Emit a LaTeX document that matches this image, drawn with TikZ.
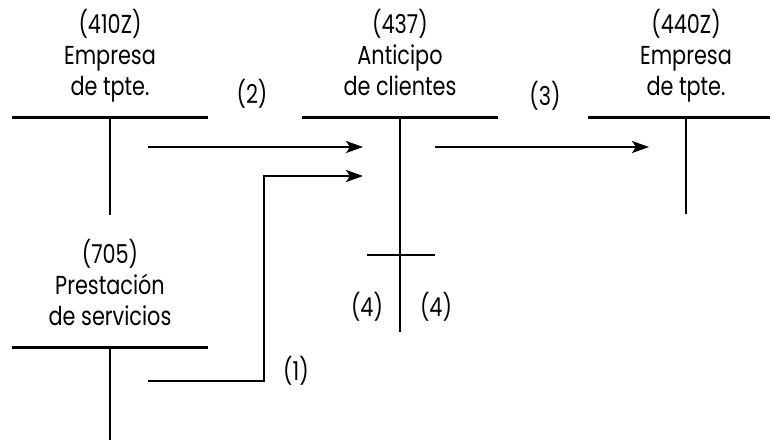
\documentclass[tikz,border=0pt]{standalone}
\usepackage{fontspec}
\setmainfont[FakeStretch=0.8]{Poppins}
\usetikzlibrary{arrows.meta}
\begin{document}
\begin{tikzpicture}[x=1pt,y=-1pt,
  bar/.style={line width=3pt},
  stem/.style={line width=2.2pt},
  flow/.style={line width=2.2pt,-{Stealth[length=17pt,width=12pt,inset=4pt]}},
  title/.style={align=center,font=\fontsize{26}{31}\selectfont,inner sep=0pt,anchor=base},
  lbl/.style={font=\fontsize{26}{30}\selectfont,inner sep=0pt}]
\useasboundingbox (0,0) rectangle (770,440);
% titles
\node[title] (t1) at (110,95) {(410Z)\\Empresa\\de tpte.};
\node[title] (t2) at (400,95) {(437)\\Anticipo\\de clientes};
\node[title] (t3) at (686,95) {(440Z)\\Empresa\\de tpte.};
\node[title] (t4) at (110,325) {(705)\\Prestación\\de servicios};
% T accounts
\coordinate (a1l) at (12,117); \coordinate (a1r) at (208,117);
\coordinate (a1t) at (110,117); \coordinate (a1b) at (110,215);
\coordinate (a2l) at (302,117); \coordinate (a2r) at (498,117);
\coordinate (a2t) at (400,117); \coordinate (a2b) at (400,332);
\coordinate (a3l) at (588,117); \coordinate (a3r) at (784,117);
\coordinate (a3t) at (686,117); \coordinate (a3b) at (686,214);
\coordinate (a4l) at (12,347); \coordinate (a4r) at (208,347);
\coordinate (a4t) at (110,347); \coordinate (a4b) at (110,440);
\coordinate (cl) at (367,255); \coordinate (cr) at (435,255);
\draw[bar] (a1l) -- (a1r); \draw[stem] (a1t) -- (a1b);
\draw[bar] (a2l) -- (a2r); \draw[stem] (a2t) -- (a2b);
\draw[bar] (a3l) -- (a3r); \draw[stem] (a3t) -- (a3b);
\draw[bar] (a4l) -- (a4r); \draw[stem] (a4t) -- (a4b);
\draw[stem] (cl) -- (cr);
% flows
\coordinate (f2s) at (148,147); \coordinate (f2e) at (363,147);
\coordinate (f3s) at (435,147); \coordinate (f3e) at (649,147);
\coordinate (f1s) at (148,381); \coordinate (f1c) at (264,381); \coordinate (f1e) at (363,176);
\draw[flow] (f2s) -- (f2e);
\draw[flow] (f3s) -- (f3e);
\draw[flow] (f1s) -- (f1c) |- (f1e);
% labels
\node[lbl] (l2) at (252,94) {(2)};
\node[lbl] (l3) at (545,96) {(3)};
\node[lbl] (l1) at (296,371) {(1)};
\node[lbl] (l4a) at (367,307) {(4)};
\node[lbl] (l4b) at (436,307) {(4)};
\end{tikzpicture}
\end{document}
